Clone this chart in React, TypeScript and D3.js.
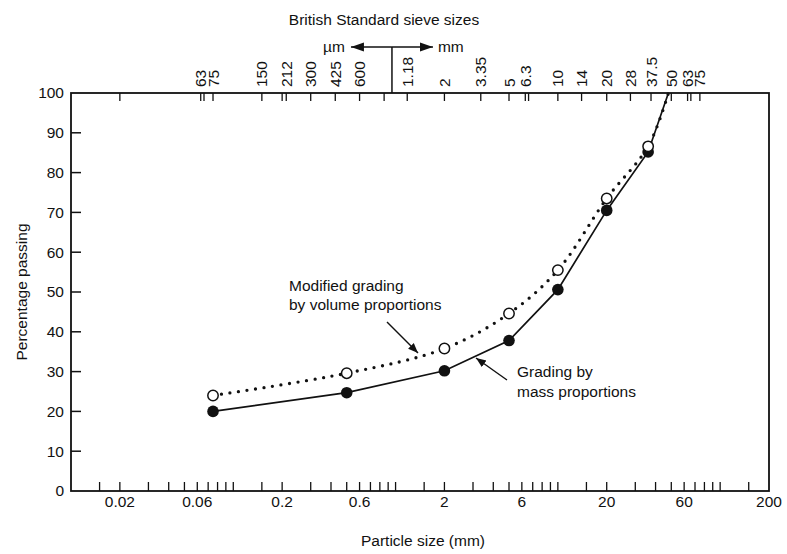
import React from "react";
import { scaleLog, scaleLinear, line, curveCatmullRom, curveLinear } from "d3";

const width = 787;
const height = 554;
const margin = { left: 71, right: 18, top: 93, bottom: 63 };

// particle sizes (mm) at which gradings were measured
const sizes = [0.075, 0.5, 2, 5, 10, 20, 36, 48];
const massPassing = [20, 24.7, 30.2, 37.8, 50.6, 70.5, 85.2, 100];
const volumePassing = [24, 29.6, 35.8, 44.6, 55.5, 73.5, 86.6, 100];

// bottom axis
const bottomLabels = [0.02, 0.06, 0.2, 0.6, 2, 6, 20, 60, 200];
const decades = [0.01, 0.1, 1, 10, 100];
const minorSteps = [1, 1.5, 2, 3, 4, 5, 6, 7, 8, 9];

// British Standard sieve sizes (mm) and their labels
const sieveSizes = [0.063, 0.075, 0.15, 0.212, 0.3, 0.425, 0.6, 1.18, 2, 3.35, 5, 6.3, 10, 14, 20, 28, 37.5, 50, 63, 75];
const sieveLabels = ["63", "75", "150", "212", "300", "425", "600", "1.18", "2", "3.35", "5", "6.3", "10", "14", "20", "28", "37.5", "50", "63", "75"];
const extraSieveTicks = [0.02, 0.066, 0.2, 0.85, 6.6, 66];

const yTicks = [0, 10, 20, 30, 40, 50, 60, 70, 80, 90, 100];

const font = "'Liberation Sans', Arial, sans-serif";
const ink = "#111";
const fs = 15.5;

export default function App() {
  const x = scaleLog().domain([0.01, 200]).range([margin.left, width - margin.right]);
  const y = scaleLinear().domain([0, 100]).range([height - margin.bottom, margin.top]);
  const top = y(100);
  const bottom = y(0);
  const left = x(0.01);
  const right = x(200);

  const bottomTicks: number[] = [];
  decades.forEach(d => minorSteps.forEach(s => {
    const v = d * s;
    if (v > 0.012 && v < 200) bottomTicks.push(v);
  }));

  const massLine = line<number>()
    .x((_, i) => x(sizes[i]))
    .y(d => y(d))
    .curve(curveLinear);
  const volLine = line<number>()
    .x((_, i) => x(sizes[i]))
    .y(d => y(d))
    .curve(curveCatmullRom.alpha(0.5));

  const markerIdx = sizes.slice(0, -1).map((_, i) => i);
  const divider = x(0.95);

  return (
    <svg width={width} height={height} style={{ position: "absolute", left: 0, top: 0, background: "#fff" }}
      fontFamily={font} fill={ink}>
      <defs>
        <marker id="ah" viewBox="0 0 10 10" refX="10" refY="5" markerWidth="10" markerHeight="10"
          markerUnits="userSpaceOnUse" orient="auto">
          <path d="M0,1 L10,5 L0,9 Z" fill={ink} />
        </marker>
        <marker id="ah2" viewBox="0 0 10 10" refX="10" refY="5" markerWidth="13" markerHeight="13"
          markerUnits="userSpaceOnUse" orient="auto">
          <path d="M0,1.5 L10,5 L0,8.5 Z" fill={ink} />
        </marker>
      </defs>

      {/* frame */}
      <rect x={left} y={top} width={right - left} height={bottom - top} fill="none" stroke={ink} strokeWidth={1.8} />

      {/* y axis */}
      {yTicks.map(t => (
        <g key={"y" + t}>
          {t > 0 && t < 100 && <line x1={left} x2={left + 10} y1={y(t)} y2={y(t)} stroke={ink} strokeWidth={1.5} />}
          <text x={left - 7} y={y(t)} dy="0.35em" textAnchor="end" fontSize={fs}>{t}</text>
        </g>
      ))}
      <text transform={`translate(27, ${(top + bottom) / 2}) rotate(-90)`} textAnchor="middle" fontSize={fs}>
        Percentage passing
      </text>

      {/* bottom axis */}
      {bottomTicks.map(t => (
        <line key={"b" + t} x1={x(t)} x2={x(t)} y1={bottom} y2={bottom - 9} stroke={ink} strokeWidth={1.3} />
      ))}
      {bottomLabels.map(t => (
        <text key={"bl" + t} x={x(t)} y={bottom + 16} textAnchor="middle" fontSize={fs}>{t}</text>
      ))}
      <text x={423} y={546} textAnchor="middle" fontSize={fs}>Particle size (mm)</text>

      {/* top axis: sieve sizes */}
      {sieveSizes.concat(extraSieveTicks).map((t, i) => (
        <line key={"s" + i} x1={x(t)} x2={x(t)} y1={top} y2={top + 8} stroke={ink} strokeWidth={1.3} />
      ))}
      {sieveSizes.map((t, i) => (
        <text key={"sl" + i} transform={`translate(${x(t)}, 87) rotate(-90)`} dy="0.36em" fontSize={fs}>
          {sieveLabels[i]}
        </text>
      ))}
      <text x={384} y={25} textAnchor="middle" fontSize={fs}>British Standard sieve sizes</text>
      <line x1={divider} x2={divider} y1={47} y2={top} stroke={ink} strokeWidth={1.5} />
      <line x1={divider} x2={divider - 41} y1={47} y2={47} stroke={ink} strokeWidth={1.5} markerEnd="url(#ah2)" />
      <line x1={divider} x2={divider + 41} y1={47} y2={47} stroke={ink} strokeWidth={1.5} markerEnd="url(#ah2)" />
      <text x={divider - 47} y={52} textAnchor="end" fontSize={fs}>µm</text>
      <text x={divider + 46} y={52} textAnchor="start" fontSize={fs}>mm</text>

      {/* grading curves */}
      <path d={massLine(massPassing) ?? ""} fill="none" stroke={ink} strokeWidth={1.7} />
      <path d={volLine(volumePassing) ?? ""} fill="none" stroke={ink} strokeWidth={3.3}
        strokeDasharray="0 8.6" strokeLinecap="round" />
      {markerIdx.map(i => (
        <circle key={"m" + i} cx={x(sizes[i])} cy={y(massPassing[i])} r={5.8} fill={ink} />
      ))}
      {markerIdx.map(i => (
        <circle key={"v" + i} cx={x(sizes[i])} cy={y(volumePassing[i])} r={5.2} fill="#fff" stroke={ink} strokeWidth={1.5} />
      ))}

      {/* annotations */}
      <text x={289} y={291} fontSize={fs}>Modified grading</text>
      <text x={289} y={310} fontSize={fs}>by volume proportions</text>
      <line x1={387} y1={322} x2={418} y2={353} stroke={ink} strokeWidth={1.4} markerEnd="url(#ah)" />

      <text x={517} y={377} fontSize={fs}>Grading by</text>
      <text x={517} y={397} fontSize={fs}>mass proportions</text>
      <line x1={507} y1={380} x2={476} y2={358} stroke={ink} strokeWidth={1.4} markerEnd="url(#ah)" />
    </svg>
  );
}
